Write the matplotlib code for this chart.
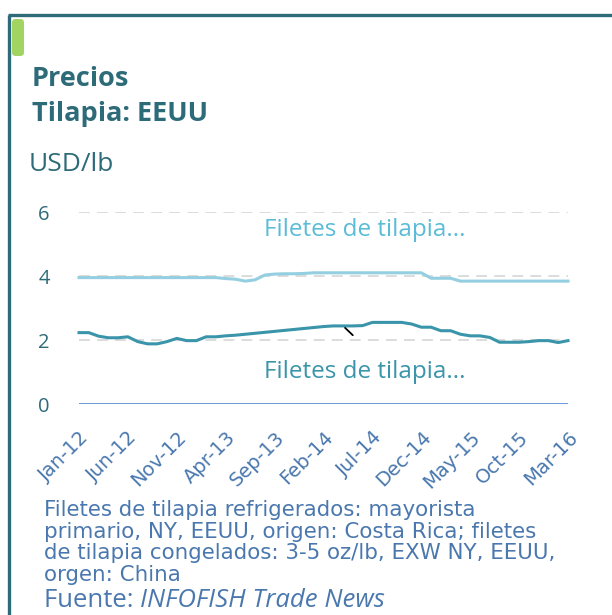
import matplotlib.pyplot as plt
from matplotlib.patches import FancyBboxPatch
from matplotlib.lines import Line2D
import numpy as np

# Monthly prices Jan-12 .. Mar-16, USD/lb
refrigerados_cr = [3.95, 3.95, 3.95, 3.95, 3.95, 3.95, 3.95, 3.95, 3.95, 3.95,
                   3.95, 3.95, 3.95, 3.95, 3.95, 3.92, 3.90, 3.84, 3.88, 4.03,
                   4.06, 4.07, 4.07, 4.08, 4.10, 4.10, 4.10, 4.10, 4.10, 4.10,
                   4.10, 4.10, 4.10, 4.10, 4.10, 4.10, 3.93, 3.93, 3.93, 3.84,
                   3.84, 3.84, 3.84, 3.84, 3.84, 3.84, 3.84, 3.84, 3.84, 3.84,
                   3.84]
congelados_cn = [2.23, 2.23, 2.12, 2.07, 2.07, 2.10, 1.95, 1.88, 1.88, 1.95,
                 2.05, 1.98, 1.98, 2.10, 2.10, 2.13, 2.15, 2.18, 2.21, 2.24,
                 2.27, 2.30, 2.33, 2.36, 2.39, 2.42, 2.44, 2.44, 2.44, 2.45,
                 2.55, 2.55, 2.55, 2.55, 2.50, 2.40, 2.40, 2.29, 2.29, 2.18,
                 2.13, 2.13, 2.08, 1.93, 1.93, 1.93, 1.95, 1.98, 1.98, 1.92,
                 1.98]
tick_labels = ['Jan-12', 'Jun-12', 'Nov-12', 'Apr-13', 'Sep-13', 'Feb-14',
               'Jul-14', 'Dec-14', 'May-15', 'Oct-15', 'Mar-16']
y_ticks = [0, 2, 4, 6]
serie_label = 'Filetes de tilapia...'

TEAL = '#2e6b79'
BLUE_TXT = '#4a78ae'
LIGHT = '#93cfe1'
DARK = '#3a95aa'

fig = plt.figure(figsize=(6.12, 6.15), dpi=100)
W, H = 612, 615

# ─── card frame ────────────────────────────────────────────────────
fig.add_artist(Line2D([8 / W, 1], [1 - 15 / H] * 2, color=TEAL, lw=2.4,
                      transform=fig.transFigure, solid_capstyle='butt'))
fig.add_artist(Line2D([9 / W] * 2, [0, 1 - 15 / H], color=TEAL, lw=2.4,
                      transform=fig.transFigure, solid_capstyle='butt'))
fig.add_artist(FancyBboxPatch((12 / W, 1 - 56 / H), 12 / W, 37 / H,
                              boxstyle='round,pad=0,rounding_size=0.006',
                              facecolor='#a2d462', edgecolor='none',
                              transform=fig.transFigure))

# ─── titles ────────────────────────────────────────────────────────
fig.text(32 / W, 1 - 86 / H, 'Precios', fontsize=19.5, fontweight='bold',
         family='Open Sans', color=TEAL, va='baseline')
fig.text(32 / W, 1 - 121 / H, 'Tilapia: EEUU', fontsize=19.5, fontweight='bold',
         family='Open Sans', color=TEAL, va='baseline')
fig.text(29 / W, 1 - 171 / H, 'USD/lb', fontsize=19,
         family='Open Sans', color=TEAL, va='baseline')

# ─── chart ─────────────────────────────────────────────────────────
ax = fig.add_axes([79 / W, 1 - 404 / H, (568 - 79) / W, (404 - 212) / H])
x = np.arange(len(refrigerados_cr))

for v in y_ticks[1:]:
    ax.axhline(v, color='#d9d9d9', lw=1.3, dashes=(6, 4), zorder=1)
ax.axhline(0, color='#5b8fd2', lw=2.0, zorder=2)

ax.plot(x, refrigerados_cr, color=LIGHT, lw=2.2, zorder=3, clip_on=False)
ax.plot(x, congelados_cn, color=DARK, lw=2.2, zorder=3, clip_on=False,
        solid_joinstyle='round')

ax.text(29.2, 5.44, serie_label, color='#5bbcd7', fontsize=17.5,
        family='Open Sans', ha='center', va='center')
ax.text(29.2, 1.0, serie_label, color=DARK, fontsize=17.5,
        family='Open Sans', ha='center', va='center')
ax.annotate('', xy=(27, congelados_cn[27]), xytext=(28.2, 2.09),
            arrowprops=dict(arrowstyle='-', color='black', lw=1.3))

ax.set_xlim(0, len(x) - 1)
ax.set_ylim(0, 6)
ax.set_yticks(y_ticks)
ax.set_yticklabels([str(v) for v in y_ticks], family='Open Sans',
                   fontsize=14.5, color=TEAL)
ax.set_xticks(x[::5])
ax.set_xticklabels(tick_labels, rotation=45, ha='right', va='top',
                   rotation_mode='anchor', fontsize=14, color=BLUE_TXT)
ax.tick_params(axis='y', length=0, pad=21)
ax.tick_params(axis='x', length=0, pad=17)
for s in ax.spines.values():
    s.set_visible(False)

# ─── footnote ──────────────────────────────────────────────────────
fig.text(44 / W, 1 - 500 / H,
         'Filetes de tilapia refrigerados: mayorista\n'
         'primario, NY, EEUU, origen: Costa Rica; filetes\n'
         'de tilapia congelados: 3-5 oz/lb, EXW NY, EEUU,\n'
         'orgen: China',
         fontsize=15.4, color=BLUE_TXT, va='top', linespacing=1.1)
src = fig.text(44 / W, 1 - 607 / H, 'Fuente: ', fontsize=18.5, color=BLUE_TXT,
               family='Open Sans', va='baseline')
fig.canvas.draw()
bb = src.get_window_extent()
fig.text(bb.x1 / W, 1 - 607 / H, 'INFOFISH Trade News', fontsize=18.5,
         color=BLUE_TXT, family='Open Sans', style='italic', va='baseline')

fig.savefig('out.png', dpi=100)
